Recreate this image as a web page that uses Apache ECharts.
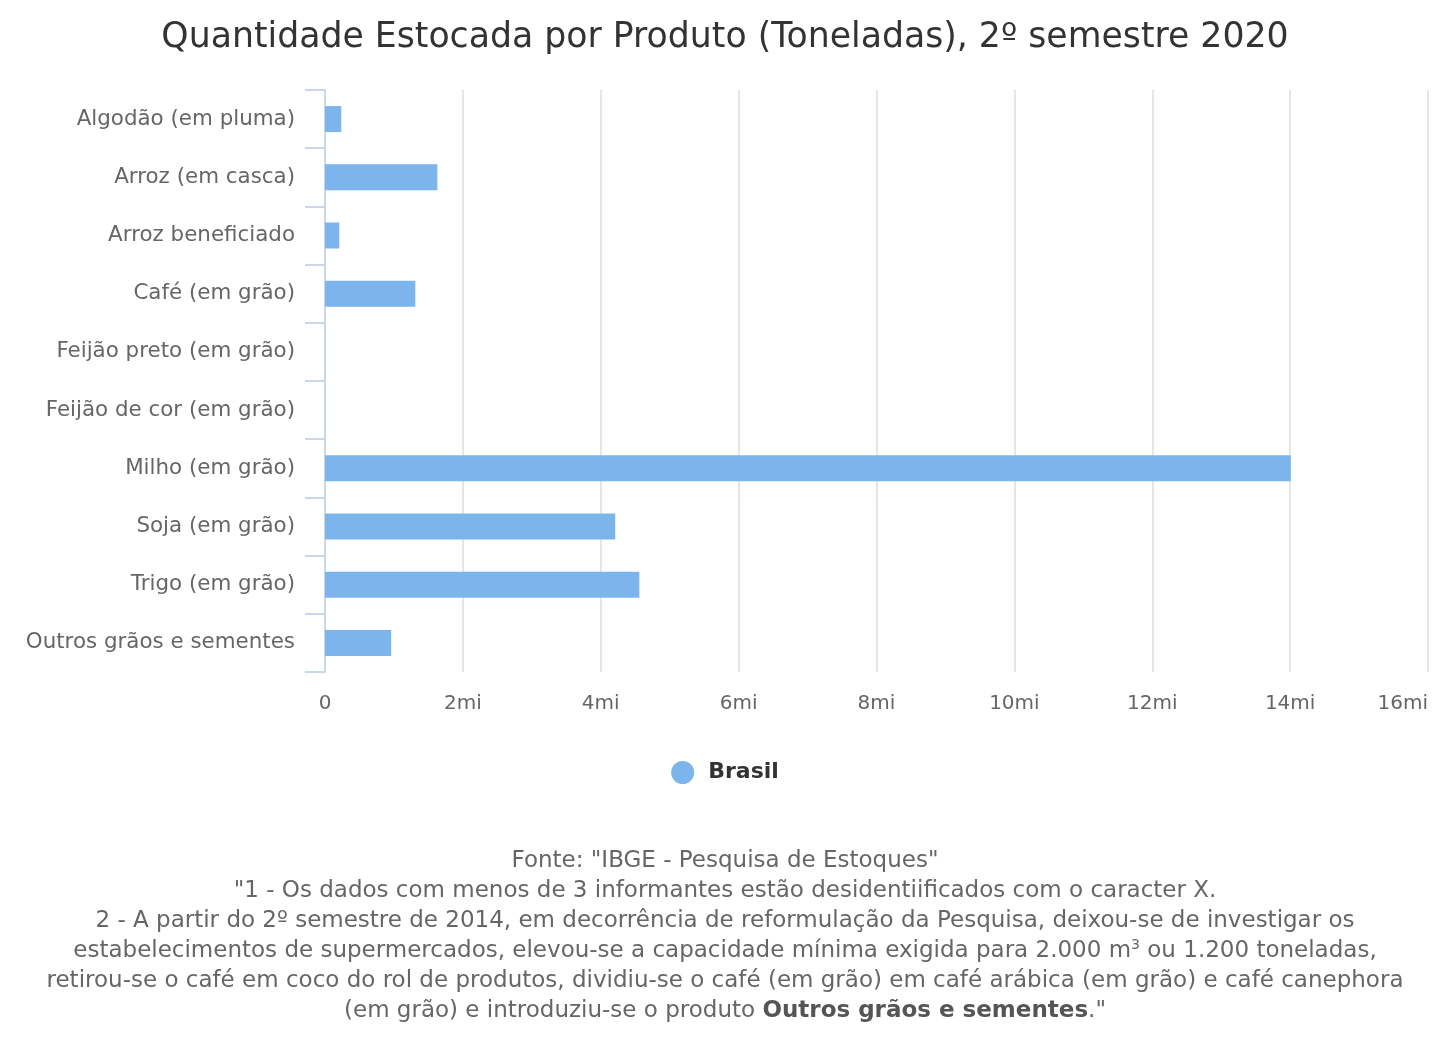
<!DOCTYPE html>
<html>
<head>
<meta charset="utf-8">
<script src="https://cdn.jsdelivr.net/npm/echarts@6/dist/echarts.min.js"></script>
<style>
  html, body { margin: 0; padding: 0; background: #fff; }
  #main { width: 1450px; height: 1047px; }
</style>
</head>
<body>
<div id="main"></div>
<script>
// categorias e valores (toneladas)
var produtos = [
    'Algodão (em pluma)',
    'Arroz (em casca)',
    'Arroz beneficiado',
    'Café (em grão)',
    'Feijão preto (em grão)',
    'Feijão de cor (em grão)',
    'Milho (em grão)',
    'Soja (em grão)',
    'Trigo (em grão)',
    'Outros grãos e sementes'
];
var brasil = [236000, 1630000, 207000, 1310000, null, null, 14010000, 4210000, 4560000, 960000];
var nomeSerie = 'Brasil';

var fonte = '"DejaVu Sans", sans-serif';

var notas = [
    '{n|Fonte: "IBGE - Pesquisa de Estoques"}',
    '{n|"1 - Os dados com menos de 3 informantes estão desidentiificados com o caracter X.}',
    '{n|2 - A partir do 2º semestre de 2014, em decorrência de reformulação da Pesquisa, deixou-se de investigar os}',
    '{n|estabelecimentos de supermercados, elevou-se a capacidade mínima exigida para 2.000 m}{s|3}{n| ou 1.200 toneladas,}',
    '{n|retirou-se o café em coco do rol de produtos, dividiu-se o café (em grão) em café arábica (em grão) e café canephora}',
    '{n|(em grão) e introduziu-se o produto }{b|Outros grãos e sementes}{n|."}'
];

var myChart = echarts.init(document.getElementById('main'));
var option = {
    animation: false,
    textStyle: { fontFamily: fonte },
    title: {
        text: 'Quantidade Estocada por Produto (Toneladas), 2º semestre 2020',
        left: 'center',
        top: 15,
        textStyle: { fontFamily: fonte, fontSize: 34.7, fontWeight: 'normal', color: '#333333' }
    },
    legend: {
        data: [nomeSerie],
        top: 756,
        left: 'center',
        icon: 'circle',
        itemWidth: 23,
        itemHeight: 23,
        itemGap: 10,
        textStyle: { fontFamily: fonte, fontSize: 22, fontWeight: 'bold', color: '#333333', padding: [0, 0, 0, 9] }
    },
    grid: { left: 325, right: 22, top: 90, bottom: 375, containLabel: false, outerBoundsMode: 'none' },
    xAxis: {
        type: 'value',
        min: 0,
        max: 16000000,
        interval: 2000000,
        axisLine: { show: false },
        axisTick: { show: false },
        splitLine: { lineStyle: { color: '#e6e6e6', width: 2 } },
        axisLabel: {
            margin: 22,
            fontSize: 20,
            color: '#666666',
            alignMaxLabel: 'right',
            formatter: function (v) { return v === 0 ? '0' : (v / 1000000) + 'mi'; }
        }
    },
    yAxis: {
        type: 'category',
        inverse: true,
        data: produtos,
        axisLine: { lineStyle: { color: '#ccd6eb', width: 2 } },
        axisTick: { show: true, length: 20, lineStyle: { color: '#ccd6eb', width: 2 } },
        axisLabel: { margin: 30, fontSize: 21.4, color: '#666666' }
    },
    series: [{
        name: nomeSerie,
        type: 'bar',
        data: brasil,
        barWidth: 26,
        itemStyle: { color: '#7cb5ec' }
    }],
    graphic: [{
        type: 'text',
        left: 'center',
        top: 850,
        style: {
            text: notas.join('\n'),
            textAlign: 'center',
            rich: {
                n: { fontFamily: fonte, fontSize: 23, fill: '#666666', lineHeight: 30 },
                b: { fontFamily: fonte, fontSize: 23, fill: '#555555', fontWeight: 'bold', lineHeight: 30 },
                s: { fontFamily: fonte, fontSize: 14, fill: '#666666', lineHeight: 30, padding: [0, 0, 12, 0] }
            }
        }
    }]
};

myChart.setOption(option);
</script>
</body>
</html>
